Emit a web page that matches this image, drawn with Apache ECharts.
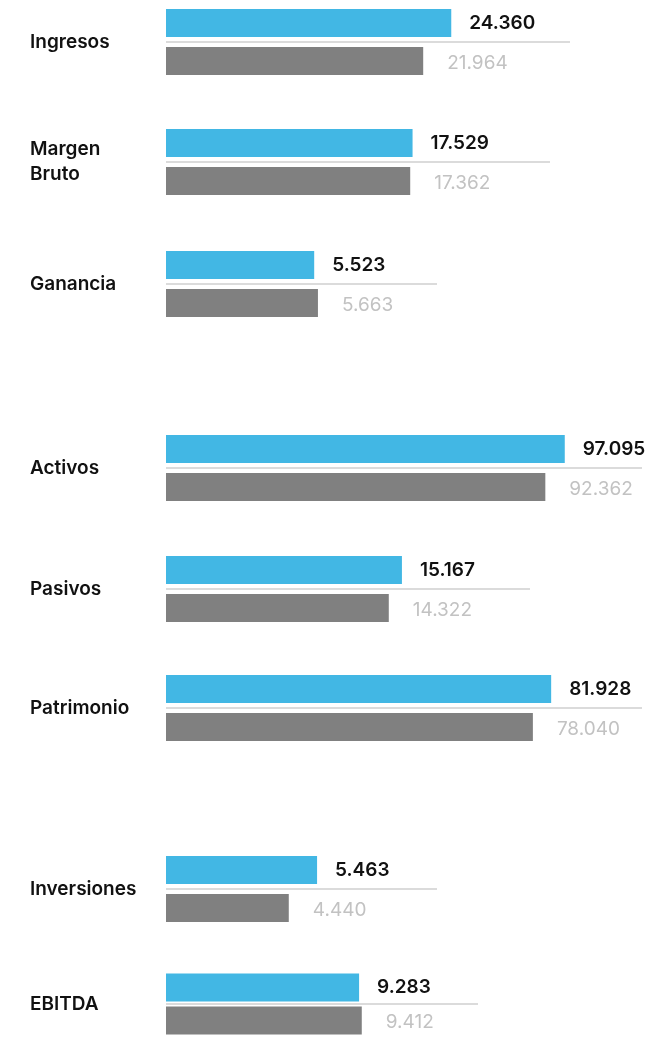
<!DOCTYPE html>
<html>
<head>
<meta charset="utf-8">
<script src="https://cdn.jsdelivr.net/npm/echarts@6/dist/echarts.min.js"></script>
<style>
  html, body { margin: 0; padding: 0; background: #fff; }
  #main { width: 648px; height: 1037px; }
</style>
</head>
<body>
<div id="main"></div>
<script>
// categories and values (current year / previous year)
var categories = ['Ingresos', 'Margen\nBruto', 'Ganancia', 'Activos', 'Pasivos', 'Patrimonio', 'Inversiones', 'EBITDA'];
var actual = [24360, 17529, 5523, 97095, 15167, 81928, 5463, 9283];
var anterior = [21964, 17362, 5663, 92362, 14322, 78040, 4440, 9412];
// each row has its own scale in the original infographic
var axisMax = [34500, 27300, 10100, 115900, 23400, 101250, 9800, 15000];

// layout per row: separator line position and right end
var rowLine = [42, 162, 284, 468, 589, 708, 889, 1009];
var rowEnd = [570, 550, 437, 642, 530, 642, 437, 478];

var BLUE = '#42b7e4';
var GREY = '#808080';
var FONT = 'Inter, "Noto Sans", sans-serif';

function fmt(v) {
  return String(v).replace(/\B(?=(\d{3})+(?!\d))/g, '.');
}

var chart = echarts.init(document.getElementById('main'));

var grids = [], xAxes = [], yAxes = [], series = [];
for (var i = 0; i < categories.length; i++) {
  grids.push({
    left: 166,
    right: 648 - rowEnd[i],
    top: rowLine[i] - 38,
    height: 76
  });
  xAxes.push({
    gridIndex: i, type: 'value', min: 0, max: axisMax[i], show: false
  });
  yAxes.push({
    gridIndex: i,
    type: 'category',
    inverse: true,
    data: ['actual', 'anterior'],
    axisLine: { show: false },
    axisTick: { show: false },
    axisLabel: { show: false },
    splitLine: {
      show: true,
      showMinLine: false,
      showMaxLine: false,
      lineStyle: { color: '#cfcfcf', width: 1.5 }
    },
    name: categories[i],
    nameLocation: 'middle',
    nameRotate: 0,
    nameGap: 136,
    nameTextStyle: {
      align: 'left',
      color: '#111',
      fontSize: 19,
      fontWeight: 600,
      fontFamily: FONT,
      lineHeight: 25,
      padding: [0, 0, 6, 0]
    }
  });
  series.push({
    type: 'bar',
    xAxisIndex: i,
    yAxisIndex: i,
    barWidth: 28,
    silent: true,
    data: [
      {
        value: actual[i],
        itemStyle: { color: BLUE },
        label: {
          show: true, position: 'right', distance: 18,
          color: '#111', fontSize: 19, fontWeight: 600, fontFamily: FONT,
          formatter: function (p) { return fmt(p.value); }
        }
      },
      {
        value: anterior[i],
        itemStyle: { color: GREY },
        label: {
          show: true, position: 'right', distance: 24, offset: [0, 2],
          color: '#c2c2c2', fontSize: 19, fontFamily: FONT,
          formatter: function (p) { return fmt(p.value); }
        }
      }
    ]
  });
}

chart.setOption({
  animation: false,
  backgroundColor: '#fff',
  grid: grids,
  xAxis: xAxes,
  yAxis: yAxes,
  series: series
});
</script>
</body>
</html>
